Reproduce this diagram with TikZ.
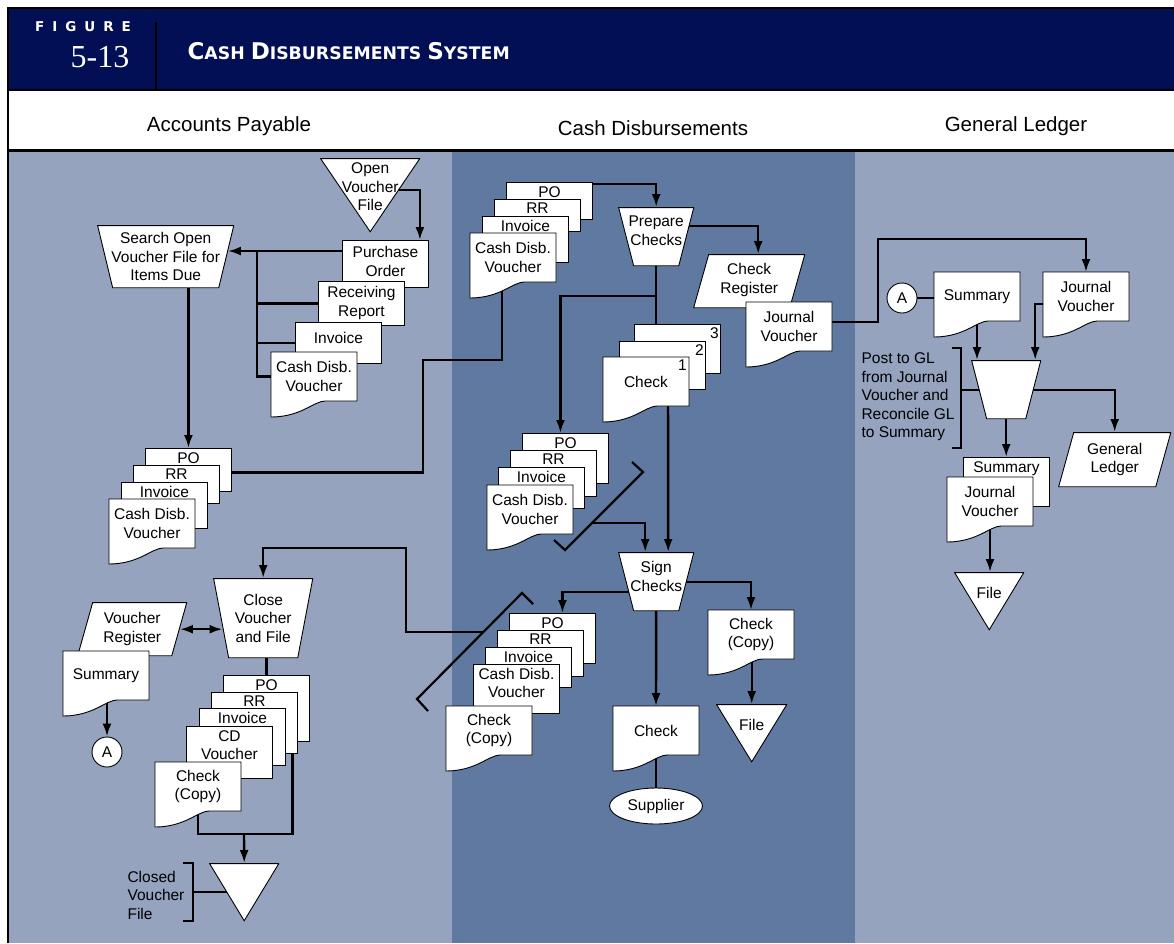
\documentclass[tikz,border=0pt]{standalone}
\usepackage{fontspec}
\setmainfont{Liberation Sans}
\newfontfamily\headfont{DejaVu Sans}
\newfontfamily\numfont{Liberation Serif}
\usetikzlibrary{arrows.meta,calc,shapes.geometric}

\definecolor{navy}{RGB}{2,15,84}
\definecolor{lanelite}{RGB}{149,163,190}
\definecolor{lanedark}{RGB}{96,121,160}

\newcommand{\lbl}{\fontsize{15.5}{18.5}\selectfont}
\newcommand{\lanefont}{\fontsize{20.5}{23}\selectfont}
\newcommand{\capword}[2]{{\fontsize{23}{23}\selectfont #1}#2}

% document symbol: the wavy edge hangs 16pt below the south side
\makeatletter
\pgfdeclareshape{paperdoc}{%
  \inheritsavedanchors[from=rectangle]
  \inheritanchorborder[from=rectangle]
  \inheritanchor[from=rectangle]{center}
  \inheritanchor[from=rectangle]{north}
  \inheritanchor[from=rectangle]{south}
  \inheritanchor[from=rectangle]{east}
  \inheritanchor[from=rectangle]{west}
  \inheritanchor[from=rectangle]{north east}
  \inheritanchor[from=rectangle]{north west}
  \inheritanchor[from=rectangle]{south east}
  \inheritanchor[from=rectangle]{south west}
  \backgroundpath{%
    \southwest \edef\docL{\the\pgf@x}\edef\docB{\the\pgf@y}%
    \northeast \edef\docR{\the\pgf@x}\edef\docT{\the\pgf@y}%
    \pgfpathmoveto{\pgfpoint{\docL}{\docT}}%
    \pgfpathlineto{\pgfpoint{\docR}{\docT}}%
    \pgfpathlineto{\pgfpoint{\docR}{\docB}}%
    \pgfpathlineto{\pgfpoint{\docL+0.63*((\docR)-(\docL))}{\docB}}%
    \pgfpathcurveto{\pgfpoint{\docL+0.5*((\docR)-(\docL))}{\docB}}%
      {\pgfpoint{\docL+0.35*((\docR)-(\docL))}{\docB-16pt}}%
      {\pgfpoint{\docL}{\docB-16pt}}%
    \pgfpathclose
  }%
}
\makeatother

% corners of a node, for the outlines drawn as path pictures
\newcommand{\ppcorners}{%
  \coordinate (sw) at ([shift={(.45pt,.45pt)}]path picture bounding box.south west);
  \coordinate (ne) at ([shift={(-.45pt,-.45pt)}]path picture bounding box.north east);}

\pgfdeclarelayer{lanes}
\pgfdeclarelayer{wires}
\pgfsetlayers{lanes,wires,main}

\tikzset{
  every node/.style={font=\lbl},
  box/.style={draw=black, fill=white, line width=0.9pt},
  sheet/.style={box, minimum width=86, anchor=north west, inner sep=0pt},
  tag/.style={anchor=north, inner xsep=1pt, inner ysep=4pt, align=center},
  doc/.style={shape=paperdoc, box, minimum width=86, minimum height=49,
    anchor=north west, inner sep=1pt, outer sep=0pt, align=center},
  manop/.style 2 args={minimum width=#1, minimum height=#2, anchor=north west,
    inner sep=1pt, align=center,
    path picture={\ppcorners
      \filldraw[box] (sw |- ne) -- (ne) -- ($(ne |- sw)+(-15pt,0pt)$) -- ($(sw)+(15pt,0pt)$) -- cycle;}},
  io/.style 2 args={minimum width=#1, minimum height=#2, anchor=north west,
    inner sep=1pt, align=center,
    path picture={\ppcorners
      \filldraw[box] ($(sw |- ne)+(15pt,0pt)$) -- (ne) -- ($(ne |- sw)+(-15pt,0pt)$) -- (sw) -- cycle;}},
  file/.style 2 args={minimum width=#1, minimum height=#2, anchor=north west,
    inner sep=1pt, align=center,
    path picture={\ppcorners
      \filldraw[box] (sw |- ne) -- (ne) -- ($(sw)!0.5!(ne |- sw)$) -- cycle;}},
  conn/.style={circle, box, minimum size=30, inner sep=0pt},
  term/.style={ellipse, box, minimum width=93, minimum height=36, inner sep=0pt},
  wire/.style={line width=2.4pt},
  flow/.style={wire, -{Latex[length=13pt,width=9pt]}},
  cutmark/.style={line width=2.2pt},
}

\begin{document}
\begin{tikzpicture}[x=1pt, y=-1pt]
  \useasboundingbox (0,0) rectangle (1174,943);

  % --- frame, title band and lanes ---
  \begin{pgfonlayer}{lanes}
    \fill[white] (0,0) rectangle (1174,943);
    \fill[navy] (8,8) rectangle (1174,90);
    \fill[lanelite] (8,151) rectangle (452,943);
    \fill[lanedark] (452,151) rectangle (855,943);
    \fill[lanelite] (855,151) rectangle (1174,943);
    \draw[line width=2pt] (7.5,943) -- (7.5,7.5) -- (1174,7.5);
    \draw[line width=2pt] (8,90) -- (1174,90);
    \draw[line width=3pt] (8,150) -- (1174,150);
    \draw[line width=2.5pt] (156,22) -- (156,90);
  \end{pgfonlayer}

  \node[text=white, font=\headfont\bfseries\fontsize{13.5}{14}\selectfont] (figword) at (83,27)
    {F\kern8pt I\kern8pt G\kern8pt U\kern8pt R\kern8pt E};
  \node[text=white, font=\numfont\fontsize{32}{32}\selectfont] (fignum) at (100,57.5) {5-13};
  \node[anchor=west, text=white, font=\headfont\bfseries\fontsize{17.3}{18}\selectfont] (figtitle) at (184,51)
    {\capword{C}{ASH} \capword{D}{ISBURSEMENTS} \capword{S}{YSTEM}};

  \node[font=\lanefont] (hap) at (229,126) {Accounts Payable};
  \node[font=\lanefont] (hcd) at (653,128) {Cash Disbursements};
  \node[font=\lanefont] (hgl) at (1016,126) {General Ledger};

  % --- Accounts Payable ---
  \node[file={100}{74}, text depth=17pt] (ovf) at (320,158) {Open\\Voucher\\File};
  \foreach \t/\x/\y/\h/\g [count=\i] in {{Purchase\\Order}/342/240/47/6.5,
      {Receiving\\Report}/318/281/44/5.5, Invoice/295/322/41/10.5} {
    \node[sheet, minimum height=\h] (ap\i) at (\x,\y) {};
    \node[tag, inner ysep=\g] (apt\i) at (ap\i.north) {\t};
  }
  \node[doc] (apcdv) at (271,352) {Cash Disb.\\Voucher};
  \node[manop={137}{63}] (search) at (97,225) {Search Open\\Voucher File for\\Items Due};

  \foreach \t/\x/\y/\h [count=\i] in {PO/145/448/43, RR/133/465/38, Invoice/121/482/46} {
    \node[sheet, minimum height=\h] (pay\i) at (\x,\y) {};
    \node[tag] (payt\i) at (pay\i.north) {\t};
  }
  \node[doc] (paycdv) at (109,499) {Cash Disb.\\Voucher};

  \node[io={110}{54}] (vreg) at (77,602) {Voucher\\Register};
  \node[doc] (summ) at (63,651) {Summary};
  \node[conn] (onA) at (107,752) {A};
  \node[manop={100}{80}] (close) at (213,578) {Close\\Voucher\\and File};
  \foreach \t/\x/\y/\h [count=\i] in {PO/223/675/66, RR/211/692/61, Invoice/199/708/57,
      {CD\\Voucher}/186/726/52} {
    \node[sheet, minimum height=\h] (cls\i) at (\x,\y) {};
    \node[tag] (clst\i) at (cls\i.north) {\t};
  }
  \node[doc] (clschk) at (155,762) {Check\\(Copy)};
  \node[file={70}{58}] (cvf) at (209,863) {};
  \node[anchor=west, align=left] (cvftxt) at (124,895) {Closed\\Voucher\\File};

  % --- Cash Disbursements ---
  \foreach \t/\x/\y/\h [count=\i] in {PO/506/182/37, RR/494/199/32, Invoice/482/216/46} {
    \node[sheet, minimum height=\h] (cdt\i) at (\x,\y) {};
    \node[tag] (cdtt\i) at (cdt\i.north) {\t};
  }
  \node[doc] (cdtcdv) at (470,233) {Cash Disb.\\Voucher};
  \node[manop={76}{59}, text depth=12pt] (prep) at (618,207) {Prepare\\Checks};
  \node[io={112}{54}, text depth=6pt] (creg) at (693,254) {Check\\Register};
  \node[doc] (jv) at (746,302) {Journal\\Voucher};

  \foreach \n/\x/\y/\h in {3/634/324/49, 2/619/341/48} {
    \node[sheet, minimum height=\h] (chk\n) at (\x,\y) {};
    \node[anchor=north east, inner xsep=2pt, inner ysep=3pt] (chkn\n) at (chk\n.north east) {\n};
  }
  \node[doc] (chk1) at (603,357) {Check};
  \node[anchor=north east, inner xsep=2pt, inner ysep=3pt] (chkn1) at (chk1.north east) {1};

  \foreach \t/\x/\y/\h [count=\i] in {PO/522/433/50, RR/510/450/46, Invoice/498/467/41} {
    \node[sheet, minimum height=\h] (sgn\i) at (\x,\y) {};
    \node[tag] (sgnt\i) at (sgn\i.north) {\t};
  }
  \node[doc] (sgncdv) at (487,485) {Cash Disb.\\Voucher};
  \node[manop={76}{59}, text depth=11pt] (sign) at (618,552) {Sign\\Checks};

  \foreach \t/\x/\y/\h [count=\i] in {PO/509/613/50, RR/497/630/46, Invoice/485/647/40,
      {Cash Disb.\\Voucher}/473/664/49} {
    \node[sheet, minimum height=\h] (out\i) at (\x,\y) {};
    \node[tag] (outt\i) at (out\i.north) {\t};
  }
  \node[doc] (outchk) at (446,706) {Check\\(Copy)};
  \node[doc] (check) at (613,706) {Check};
  \node[term] (supplier) at (656,806) {Supplier};
  \node[doc] (copy) at (708,610) {Check\\(Copy)};
  \node[file={71}{58}, text depth=16pt] (cdfile) at (716,704) {File};

  % --- General Ledger ---
  \node[conn] (inA) at (902,298) {A};
  \node[doc] (glsum) at (934,272) {Summary};
  \node[doc] (gljv) at (1043,272) {Journal\\Voucher};
  \node[manop={70}{59}] (post) at (971,360) {};
  \node[anchor=west, align=left] (posttxt) at (858,397)
    {Post to GL\\from Journal\\Voucher and\\Reconcile GL\\to Summary};
  \node[io={113}{55}] (ledger) at (1058,432) {General\\Ledger};
  \node[sheet, minimum height=49] (glst) at (963,457) {};
  \node[tag] (glstt) at (glst.north) {Summary};
  \node[doc] (gljv2) at (947,477) {Journal\\Voucher};
  \node[file={70}{58}, text depth=16pt] (glfile) at (954,572) {File};

  % --- batch marks ---
  \draw[cutmark] (632,462) -- (643,472) -- (565,550) -- (554,540);
  \draw[cutmark] (533,604) -- (522,593) -- (417,699) -- (428,711);
  \coordinate (cut1) at (592,523);
  \coordinate (cut2) at (483,632);

  % bends of the longer runs
  \coordinate (trunk) at (257,251);
  \coordinate (bendA) at (423,360);
  \coordinate (bendB) at (878,239);
  \coordinate (bendC) at (406,548);
  \coordinate (drop) at (244,834);

  % --- connectors, under the symbols ---
  \begin{pgfonlayer}{wires}
    \draw[flow] ([yshift=5pt]ovf.center) -| ([xshift=-9pt]ap1.north east);
    \draw[flow, shorten >=-6.5pt] ([yshift=-11pt]ap1.north) -- (trunk) -- (trunk -| search.east);
    \draw[wire] (trunk) |- (apcdv.center);
    \draw[wire] (trunk |- ap2.center) -- (ap2.center);
    \draw[wire] (trunk |- ap3.center) -- (ap3.center);
    \draw[flow] (search.center -| pay1.north) -- (pay1.north);
    \draw[wire] ([yshift=-2.5pt]pay1.center) -| (bendA) -| ([xshift=-11pt]cdtcdv.center);
    \draw[flow] (cut2) -| (bendC) -| (close.north);
    \draw[wire, <->, >={Latex[length=13pt,width=9pt]}, shorten <=-7.5pt, shorten >=-9.5pt]
      (vreg.east) -- (vreg.east -| close.west);
    \draw[flow] (summ.center -| onA) -- (onA.north);
    \draw[wire] (close.center) -| (cls1.north);
    \draw[wire] ([xshift=26pt]cls1.center) |- (drop);
    \draw[wire] (clschk.center) |- (drop);
    \draw[flow] (drop) -- (cvf.north);
    \draw[wire] ([xshift=-26pt]cvf.north west) -- ++(10,0) -- ++(0,58) -- ++(-10,0);
    \draw[wire] ([xshift=-16pt]cvf.west) -- (cvf.center);

    \draw[flow] ([yshift=-2pt]cdt1.north) -| (prep.north);
    \draw[flow] ([yshift=10.5pt]prep.center) -| ([xshift=9pt]creg.north);
    \draw[flow] ([yshift=4.5pt]jv.center) -| (bendB) -| (gljv.north);
    \draw[wire] (prep.center) -- (prep.center |- chk3.north);
    \draw[flow] ([yshift=-59.5pt]prep.center) -| ([xshift=-5pt]sgn1.north);
    \draw[flow] ([xshift=22pt]chk1.center) -- ([xshift=12pt]sign.north);
    \draw[flow] (cut1) -| ([xshift=-11pt]sign.north);
    \draw[flow] ([yshift=-10.5pt]sign.center) -| ([xshift=10pt]out1.north);
    \draw[flow] (sign.center) -| (copy.north);
    \draw[flow] (sign.center) -- (check.north);
    \draw[wire] (check.center) -- (supplier.center);
    \draw[flow] (copy.center -| cdfile.north) -- (cdfile.north);

    \draw[wire] (inA) -- (inA -| glsum.center);
    \draw[flow] (glsum.center) -- (glsum.center |- post.north);
    \draw[flow] ([yshift=-7.5pt]gljv.center) -| ([xshift=29pt]post.north);
    \draw[flow] (post.center) -| (ledger.north);
    \draw[flow] (post.center) -- (post.center |- glst.north);
    \draw[flow] (gljv2.center) -- (gljv2.center |- glfile.north);
    \draw[wire] ([shift={(-19pt,12pt)}]post.north west) -- ++(9,0) -- ++(0,100) -- ++(-9,0);
    \draw[wire] ([xshift=-10pt]post.west) -- (post.center);
  \end{pgfonlayer}
\end{tikzpicture}
\end{document}
